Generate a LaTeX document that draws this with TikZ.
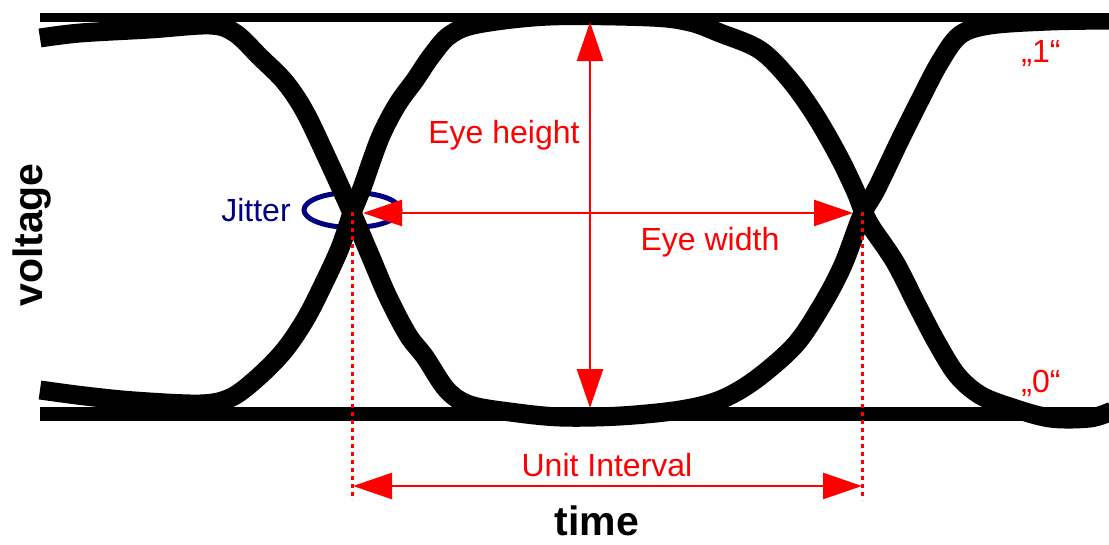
\documentclass[tikz,border=0pt]{standalone}
\usepackage{fontspec}
\setmainfont{Liberation Sans}
\usetikzlibrary{arrows.meta}
\definecolor{jitterblue}{RGB}{0,0,128}
\begin{document}
\begin{tikzpicture}[x=1pt,y=-1pt,
  curve/.style={line width=19pt, line cap=butt, line join=round},
  rail/.style={line width=#1, line cap=butt},
  dim/.style={red, line width=2.5pt, {Triangle[length=39pt,width=26pt]}-{Triangle[length=39pt,width=26pt]}},
  guide/.style={red, line width=3pt, dash pattern=on 4pt off 4pt},
  lbl/.style={red, font=\fontsize{32}{38}\selectfont, anchor=base, inner sep=0pt},
  axislbl/.style={font=\bfseries\fontsize{41}{48}\selectfont, anchor=base, inner sep=0pt}]
\useasboundingbox (0,0) rectangle (1109,544);

% jitter ellipse (behind the traces)
\coordinate (jc) at (352,210);
\draw[jitterblue, line width=5pt] (jc) ellipse [x radius=48pt, y radius=17.5pt];

% rails
\coordinate (tl) at (40,17.5);
\coordinate (tr) at (1109,17.5);
\coordinate (bl) at (40,414);
\coordinate (br) at (1109,414);
\draw[rail=9pt] (tl) -- (tr);
\draw[rail=14pt] (bl) -- (br);

% eye traces
\begin{scope}
\clip (0,13) rectangle (1109,544);
\draw[curve] plot[smooth, tension=0.55] coordinates {
 (40,38) (80,33) (150,29) (210,25) (235,33) (260,57) (285,82) (305,112)
 (328,160) (352,213) (370,255) (388,297) (408,335) (425,357) (447,390)
 (470,405) (510,412) (560,417) (620,416) (680,410) (720,400) (755,380)
 (795,345) (822,305) (843,265) (862,215) (877,188) (900,140) (920,100)
 (940,62) (960,35) (990,25) (1050,21) (1112,20)};
\draw[curve] plot[smooth, tension=0.55] coordinates {
 (40,390) (85,396) (135,401) (200,404) (230,398) (255,380) (283,352)
 (305,320) (323,285) (340,248) (352,213) (362,188) (380,138) (397,105)
 (415,80) (432,55) (450,35) (478,24) (550,16) (650,17) (690,22) (720,33)
 (760,50) (790,80) (815,115) (838,155) (855,190) (864,213) (872,228)
 (895,262) (917,305) (937,343) (957,375) (980,395) (1010,407) (1050,418)
 (1090,418) (1112,411)};
\end{scope}

% guides
\coordinate (g1a) at (352,212);
\coordinate (g1b) at (352,500);
\coordinate (g2a) at (862,212);
\coordinate (g2b) at (862,500);
\draw[guide] (g1a) -- (g1b);
\draw[guide] (g2a) -- (g2b);

% dimension arrows
\coordinate (ehT) at (590,22);
\coordinate (ehB) at (590,408);
\coordinate (ewL) at (363,213);
\coordinate (ewR) at (853,213);
\coordinate (uiL) at (353,486);
\coordinate (uiR) at (862,486);
\draw[dim] (ehT) -- (ehB);
\draw[dim] (ewL) -- (ewR);
\draw[dim] (uiL) -- (uiR);

% labels
\node[lbl] (eyeh) at (504,143) {Eye height};
\node[lbl] (eyew) at (710,250) {Eye width};
\node[lbl] (unit) at (607,476) {Unit Interval};
\node[lbl, text=jitterblue] (jit) at (256,221) {Jitter};
\node[lbl] (one) at (1041,62) {„1“};
\node[lbl] (zero) at (1041,392) {„0“};
\node[axislbl] (time) at (597,535) {time};
\node[axislbl, rotate=90] (volt) at (42,235) {voltage};
\end{tikzpicture}
\end{document}
